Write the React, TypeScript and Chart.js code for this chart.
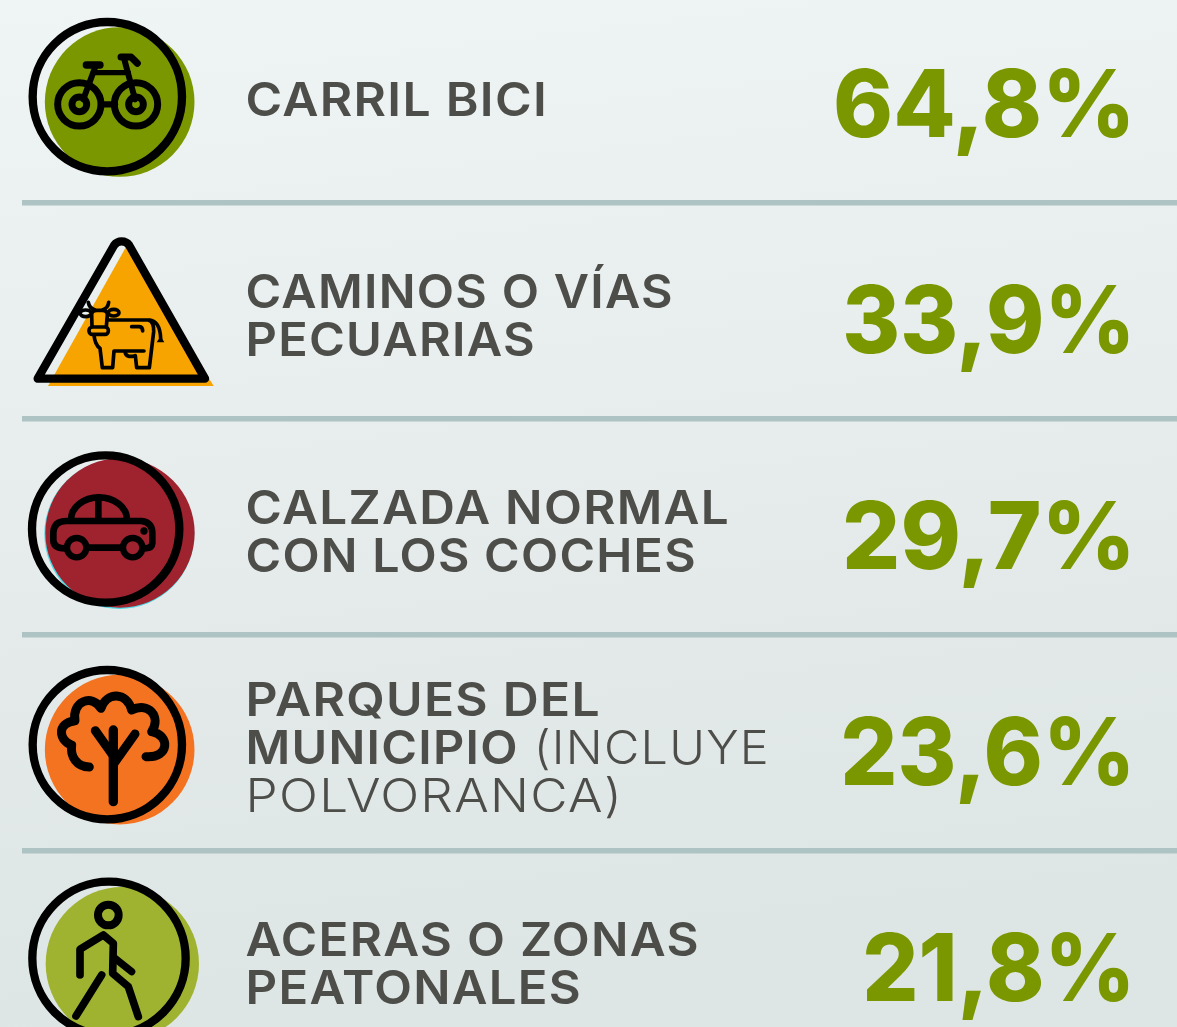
import React, { useEffect, useRef } from "react";
import { Chart, registerables } from "chart.js";

Chart.register(...registerables);

// ---- data ----
const categories = [
  "CARRIL BICI",
  "CAMINOS O VÍAS PECUARIAS",
  "CALZADA NORMAL CON LOS COCHES",
  "PARQUES DEL MUNICIPIO (INCLUYE POLVORANCA)",
  "ACERAS O ZONAS PEATONALES",
];
const values = [64.8, 33.9, 29.7, 23.6, 21.8];
const rowColors = ["#7b9700", "#f7a400", "#9e232e", "#f47321", "#a0b331"];
// each line: [bold part, light part]
const categoryLines: [string, string][][] = [
  [["CARRIL BICI", ""]],
  [["CAMINOS O VÍAS", ""], ["PECUARIAS", ""]],
  [["CALZADA NORMAL", ""], ["CON LOS COCHES", ""]],
  [["PARQUES DEL", ""], ["MUNICIPIO", " (INCLUYE"], ["", "POLVORANCA)"]],
  [["ACERAS O ZONAS", ""], ["PEATONALES", ""]],
];
const separatorTicks = [0.5, 1.5, 2.5, 3.5];

// ---- layout (the substitute font is fitted to the reference's line extents) ----
const lineRightEdges = [[545], [671, 533], [727, 694], [598, 767, 620], [697, 579]];
const valueLeftEdges = [836, 845, 846, 844, 866];

const W = 1177;
const H = 1027;
const INK = "#4d4e4a";
const VALUE_COLOR = "#7b9700";

type C = CanvasRenderingContext2D;

function line(ctx: C, pts: number[][], lw: number) {
  ctx.lineWidth = lw;
  ctx.beginPath();
  pts.forEach((p, i) => (i ? ctx.lineTo(p[0], p[1]) : ctx.moveTo(p[0], p[1])));
  ctx.stroke();
}
function ring(ctx: C, x: number, y: number, r: number, lw: number) {
  ctx.lineWidth = lw;
  ctx.beginPath();
  ctx.arc(x, y, r, 0, Math.PI * 2);
  ctx.stroke();
}
function disc(ctx: C, x: number, y: number, r: number, color: string) {
  ctx.fillStyle = color;
  ctx.beginPath();
  ctx.arc(x, y, r, 0, Math.PI * 2);
  ctx.fill();
}

// icons are drawn in a 3x local space, the anchor is the row's centre
function bike(ctx: C) {
  disc(ctx, 299, 276, 224.5, rowColors[0]);
  ring(ctx, 262, 260, 224, 25);
  [178, 348].forEach((x) => {
    ring(ctx, x, 283, 65, 21);
    ring(ctx, x, 283, 22, 21);
  });
  line(ctx, [[245, 283], [285, 283]], 19);
  line(ctx, [[220, 188], [325, 188]], 16);
  line(ctx, [[199, 165], [240, 165]], 22);
  line(ctx, [[228, 165], [190, 268]], 18);
  line(ctx, [[312, 145], [345, 268]], 18);
  line(ctx, [[303, 141], [333, 141], [352, 160]], 21);
}
function triangle(ctx: C) {
  ctx.fillStyle = rowColors[1];
  ctx.beginPath();
  ctx.moveTo(320, 62);
  ctx.lineTo(581, 483);
  ctx.lineTo(84, 483);
  ctx.closePath();
  ctx.fill();
  ctx.lineWidth = 25;
  ctx.beginPath();
  ctx.moveTo(180, 461);
  ctx.lineTo(555, 461);
  ctx.lineTo(327, 60);
  ctx.arcTo(305, 30, 283, 60, 28);
  ctx.lineTo(53, 461);
  ctx.closePath();
  ctx.stroke();
  // cow
  ctx.lineWidth = 11;
  ctx.beginPath();
  ctx.ellipse(197, 265, 17, 10, 0, 0, Math.PI * 2);
  ctx.moveTo(297, 263);
  ctx.ellipse(281, 263, 16, 10, 0, 0, Math.PI * 2);
  ctx.stroke();
  ctx.beginPath();
  ctx.moveTo(205, 232);
  ctx.quadraticCurveTo(208, 250, 224, 254);
  ctx.moveTo(266, 232);
  ctx.quadraticCurveTo(264, 250, 248, 254);
  ctx.moveTo(216, 305);
  ctx.lineTo(215, 268);
  ctx.quadraticCurveTo(216, 256, 230, 256);
  ctx.lineTo(248, 256);
  ctx.quadraticCurveTo(262, 256, 262, 270);
  ctx.lineTo(259, 305);
  ctx.stroke();
  ctx.beginPath();
  ctx.roundRect(207, 306, 58, 22, 10);
  ctx.stroke();
  ctx.beginPath();
  ctx.moveTo(262, 285);
  ctx.lineTo(385, 285);
  ctx.quadraticCurveTo(402, 290, 401, 320);
  ctx.lineTo(388, 428);
  ctx.lineTo(350, 428);
  ctx.lineTo(346, 392);
  ctx.moveTo(222, 330);
  ctx.quadraticCurveTo(225, 360, 240, 370);
  ctx.lineTo(247, 428);
  ctx.lineTo(278, 428);
  ctx.lineTo(282, 378);
  ctx.lineTo(372, 378);
  ctx.moveTo(315, 380);
  ctx.quadraticCurveTo(318, 400, 345, 392);
  ctx.moveTo(390, 285);
  ctx.quadraticCurveTo(420, 290, 422, 340);
  ctx.moveTo(335, 305);
  ctx.lineTo(358, 305);
  ctx.quadraticCurveTo(368, 306, 368, 318);
  ctx.stroke();
  ctx.fillStyle = "#000";
  ctx.beginPath();
  ctx.moveTo(422, 333);
  ctx.lineTo(433, 352);
  ctx.lineTo(410, 352);
  ctx.closePath();
  ctx.fill();
}
function car(ctx: C) {
  disc(ctx, 298, 267, 225, "#4fd8e4");
  disc(ctx, 300, 264, 224, rowColors[2]);
  ring(ctx, 257, 252, 221, 25);
  ctx.lineWidth = 20;
  ctx.beginPath();
  ctx.ellipse(237, 224, 84, 67, 0, Math.PI, 0);
  ctx.stroke();
  line(ctx, [[235, 158], [235, 226]], 20);
  ctx.lineWidth = 20;
  ctx.beginPath();
  ctx.moveTo(135, 310);
  ctx.quadraticCurveTo(100, 310, 100, 285);
  ctx.lineTo(100, 262);
  ctx.quadraticCurveTo(102, 228, 140, 228);
  ctx.lineTo(365, 228);
  ctx.quadraticCurveTo(397, 232, 397, 265);
  ctx.lineTo(397, 295);
  ctx.quadraticCurveTo(396, 310, 375, 310);
  ctx.moveTo(205, 308);
  ctx.lineTo(305, 308);
  ctx.stroke();
  ring(ctx, 170, 308, 29, 19);
  ring(ctx, 338, 308, 29, 19);
  disc(ctx, 372, 258, 11, "#000");
}
function tree(ctx: C) {
  disc(ctx, 299, 269, 224.5, rowColors[3]);
  ring(ctx, 262, 254, 224, 25);
  line(ctx, [[280, 210], [280, 425]], 28);
  line(ctx, [[226, 212], [278, 285]], 27);
  line(ctx, [[345, 222], [282, 310]], 27);
  ctx.lineWidth = 27;
  ctx.beginPath();
  ctx.moveTo(208, 321);
  ctx.bezierCurveTo(170, 320, 150, 290, 155, 255);
  ctx.bezierCurveTo(120, 245, 105, 190, 165, 182);
  ctx.bezierCurveTo(155, 125, 215, 100, 243, 145);
  ctx.bezierCurveTo(260, 95, 320, 95, 335, 150);
  ctx.bezierCurveTo(385, 125, 425, 170, 395, 215);
  ctx.bezierCurveTo(450, 225, 450, 295, 378, 290);
  ctx.stroke();
}
function walker(ctx: C) {
  disc(ctx, 307, 281, 230, rowColors[4]);
  ring(ctx, 267, 265, 230, 25);
  ring(ctx, 265, 135, 31, 24);
  line(ctx, [[180, 315], [180, 238], [250, 195], [280, 220], [278, 310], [325, 350], [355, 440]], 23);
  line(ctx, [[285, 265], [335, 305]], 22);
  line(ctx, [[245, 315], [168, 438]], 23);
}
const icons = [bike, triangle, car, tree, walker];
const iconOffsetY = [-84.5, -85.5, -81.5, -82.5, -88.5];

const BOLD_FONT = "600 46.5px Inter";
const LIGHT_FONT = "300 46.5px Inter";
const VALUE_FONT = "800 93px Inter";
const TEXT_LEFT = 247;
const VALUE_RIGHT = 1129;
const SPACING = 1.2;

const infographicPlugin = {
  id: "infographic",
  beforeDraw(chart: any) {
    const ctx: C = chart.ctx;
    const g = ctx.createLinearGradient(0, 0, 120, H);
    g.addColorStop(0, "#eff4f5");
    g.addColorStop(0.55, "#e6ebeb");
    g.addColorStop(1, "#dde5e5");
    ctx.save();
    ctx.fillStyle = g;
    ctx.fillRect(0, 0, W, H);
    ctx.restore();
  },
  afterDraw(chart: any) {
    const ctx: C = chart.ctx;
    const yScale = chart.scales.y;
    const meta = chart.data.datasets[0].data as { x: number; y: number }[];
    meta.forEach((pt, i) => {
      const cy = yScale.getPixelForValue(pt.y);
      // icon
      ctx.save();
      ctx.translate(20, cy + iconOffsetY[i]);
      ctx.scale(1 / 3, 1 / 3);
      ctx.strokeStyle = "#000";
      ctx.lineCap = "round";
      ctx.lineJoin = "round";
      icons[i](ctx);
      ctx.restore();
      // category text
      const lines = categoryLines[i];
      const firstBase = cy + 21.5 - ((lines.length - 1) * 48) / 2;
      lines.forEach(([bold, light], li) => {
        const by = firstBase + li * 48;
        ctx.save();
        ctx.fillStyle = INK;
        ctx.textAlign = "left";
        ctx.textBaseline = "alphabetic";
        (ctx as any).letterSpacing = SPACING + "px";
        ctx.font = BOLD_FONT;
        const bw = bold ? ctx.measureText(bold).width : 0;
        ctx.font = LIGHT_FONT;
        const lw = light ? ctx.measureText(light).width : 0;
        const stretch = (lineRightEdges[i][li] - TEXT_LEFT) / (bw + lw - SPACING - 3);
        ctx.translate(TEXT_LEFT - 1.5, 0);
        ctx.scale(stretch, 1);
        if (bold) {
          ctx.font = BOLD_FONT;
          ctx.fillText(bold, 0, by);
        }
        if (light) {
          ctx.font = LIGHT_FONT;
          ctx.fillText(light, bw, by);
        }
        ctx.restore();
      });
      // value
      const label = pt.x.toFixed(1).replace(".", ",") + "%";
      ctx.save();
      ctx.fillStyle = VALUE_COLOR;
      ctx.textAlign = "left";
      ctx.textBaseline = "alphabetic";
      ctx.font = VALUE_FONT;
      const m = ctx.measureText(label);
      const inkL = -m.actualBoundingBoxLeft;
      const inkR = m.actualBoundingBoxRight;
      const s = (VALUE_RIGHT - valueLeftEdges[i]) / (inkR - inkL);
      ctx.translate(valueLeftEdges[i] - inkL * s, 0);
      ctx.scale(s, 1);
      ctx.fillText(label, 0, cy + 42);
      ctx.restore();
    });
  },
};

export default function App() {
  const ref = useRef<HTMLCanvasElement>(null);
  useEffect(() => {
    if (!ref.current) return;
    const chart = new Chart(ref.current, {
      type: "scatter",
      data: {
        labels: categories,
        datasets: [
          {
            label: "Porcentaje",
            data: values.map((v, i) => ({ x: v, y: i })),
            pointRadius: 0,
            pointHoverRadius: 0,
          },
        ],
      },
      options: {
        responsive: false,
        animation: false,
        layout: { padding: { left: 22, right: 0, top: 0, bottom: 0 } },
        plugins: { legend: { display: false }, tooltip: { enabled: false } },
        scales: {
          x: { type: "linear", display: false, min: 0, max: 100 },
          y: {
            type: "linear",
            reverse: true,
            min: -94.5 / 216,
            max: (H - 94.5) / 216,
            afterBuildTicks: (axis: any) => {
              axis.ticks = separatorTicks.map((value) => ({ value }));
            },
            border: { display: false },
            ticks: { display: false },
            grid: { color: "#aec3c4", lineWidth: 5.5, drawTicks: false },
          },
        },
      },
      plugins: [infographicPlugin],
    } as any);
    return () => chart.destroy();
  }, []);
  return (
    <div style={{ position: "absolute", left: 0, top: 0, width: W, height: H }}>
      <canvas ref={ref} width={W} height={H} style={{ display: "block" }} />
    </div>
  );
}
